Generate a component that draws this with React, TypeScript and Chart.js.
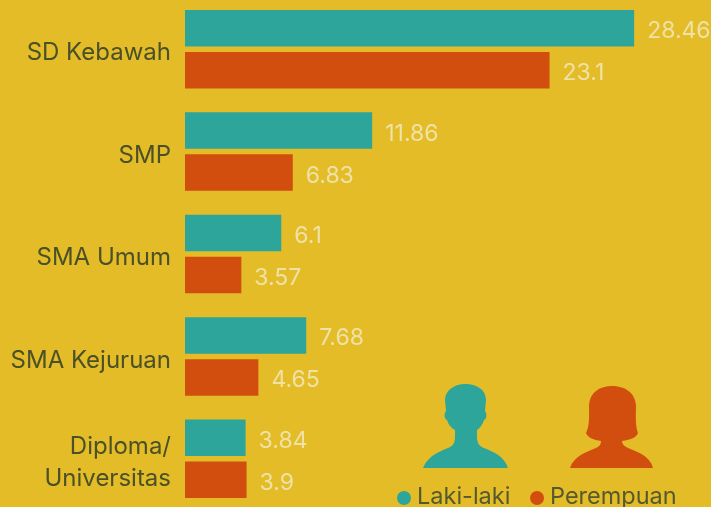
import React, { useEffect, useRef } from "react";
import { Chart, registerables } from "chart.js";

Chart.register(...registerables);

const categories = ["SD Kebawah", "SMP", "SMA Umum", "SMA Kejuruan", ["Diploma/", "Universitas"]];
const lakiLaki = [28.46, 11.86, 6.1, 7.68, 3.84];
const perempuan = [23.1, 6.83, 3.57, 4.65, 3.9];
const seriesNames = ["Laki-laki", "Perempuan"];
const FONT = "Inter, sans-serif";
const BG = "#E3BC27";
const TEAL = "#2EA59A";
const ORANGE = "#D24E0E";

const valueLabels = {
  id: "valueLabels",
  afterDatasetsDraw(chart: any) {
    const { ctx } = chart;
    ctx.save();
    ctx.font = `23px ${FONT}`;
    ctx.fillStyle = "#EFE2A6";
    ctx.textBaseline = "middle";
    ctx.textAlign = "left";
    chart.data.datasets.forEach((ds: any, i: number) => {
      chart.getDatasetMeta(i).data.forEach((bar: any, j: number) => {
        ctx.fillText(String(ds.data[j]), bar.x + 13, bar.y + 3);
      });
    });
    ctx.restore();
  },
};

const pointLegend = {
  id: "pointLegend",
  afterDraw(chart: any) {
    const { ctx } = chart;
    const xs = [404, 537];
    ctx.save();
    ctx.font = `23.5px ${FONT}`;
    ctx.textBaseline = "middle";
    chart.data.datasets.forEach((ds: any, i: number) => {
      ctx.fillStyle = ds.backgroundColor;
      ctx.beginPath();
      ctx.arc(xs[i], 500, 7, 0, Math.PI * 2);
      ctx.fill();
      ctx.fillStyle = "#55592F";
      ctx.fillText(ds.label, xs[i] + 13, 499);
    });
    ctx.restore();
  },
};

export default function App() {
  const ref = useRef<HTMLCanvasElement>(null);
  useEffect(() => {
    const chart = new Chart(ref.current!, {
      type: "bar",
      data: {
        labels: categories as any,
        datasets: [
          { label: seriesNames[0], data: lakiLaki, backgroundColor: TEAL, categoryPercentage: 0.82, barPercentage: 0.87 },
          { label: seriesNames[1], data: perempuan, backgroundColor: ORANGE, categoryPercentage: 0.82, barPercentage: 0.87 },
        ],
      },
      plugins: [valueLabels, pointLegend],
      options: {
        indexAxis: "y",
        animation: false,
        responsive: false,
        layout: { padding: 0 },
        plugins: { legend: { display: false }, tooltip: { enabled: false } },
        scales: {
          x: { display: false, min: 0, max: 33.33 },
          y: {
            afterFit(scale: any) {
              scale.width = 185;
              scale.paddingTop = 0;
              scale.paddingBottom = 0;
            },
            grid: { display: false },
            border: { display: false },
            ticks: {
              color: "#4A5028",
              font: { family: FONT, size: 24, lineHeight: 1.3 },
              padding: 6,
              labelOffset: 4,
            },
          },
        },
      },
    });
    return () => chart.destroy();
  }, []);
  return (
    <div style={{ position: "fixed", left: 0, top: 0, width: 711, height: 507, overflow: "hidden", background: BG }}>
      <canvas ref={ref} width={711} height={512} style={{ position: "absolute", left: 0, top: -2, display: "block" }} />
      <svg width={711} height={507} style={{ position: "absolute", left: 0, top: 0 }}>
        <path fill={TEAL} d="M423 468 C428 456 438 452 448 448 C453 446 455 443 455 437 L455 430 C451 428 448 424 447 420 C444 419 444 413 446 411 L445 400 C445 390 455 384 465 384 C476 384 486 389 486 400 L485 411 C487 413 487 419 484 420 C483 424 480 428 477 430 L477 437 C477 443 479 446 484 448 C494 452 504 456 508 468 Z" />
        <path fill={ORANGE} d="M570 468 C574 456 586 452 596 448 C600 446 601 444 601 441 C594 440 588 438 586 433 C590 425 589 415 589 405 C590 392 600 386 612 386 C624 386 635 392 636 405 C636 415 635 425 638 433 C636 438 630 440 622 441 C622 444 624 446 628 448 C638 452 650 456 653 468 Z" />
      </svg>
    </div>
  );
}
